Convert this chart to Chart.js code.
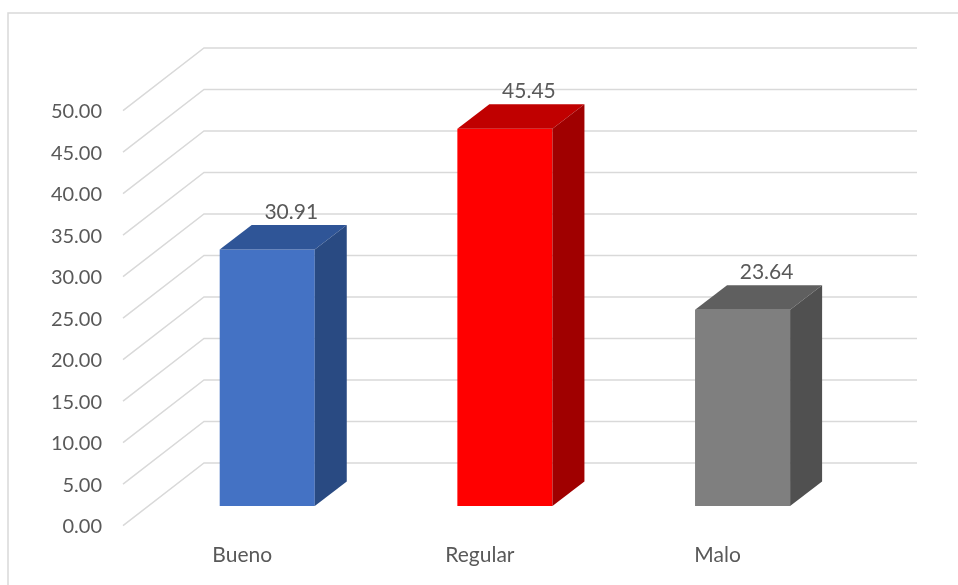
<!DOCTYPE html>
<html>
<head>
<meta charset="utf-8">
<script src="https://cdn.jsdelivr.net/npm/chart.js@4/dist/chart.umd.min.js"></script>
<style>
  html, body { margin: 0; padding: 0; background: #ffffff; }
  #wrap { width: 958px; height: 585px; position: relative; }
</style>
</head>
<body>
<div id="wrap"><canvas id="c" width="958" height="585"></canvas></div>
<script>
// ---- data ----
const categories = ["Bueno", "Regular", "Malo"];
const values = [30.91, 45.45, 23.64];
const yMin = 0;
const yMax = 50;
const yStep = 5;

// ---- styles ----
const frontColors = ["#4472C4", "#FF0000", "#7F7F7F"];
const topColors   = ["#2F5597", "#C00000", "#5F5F5F"];
const sideColors  = ["#294A82", "#A00000", "#505050"];
const textColor = "#595959";
const gridColor = "#D9D9D9";
const fontFamily = "Lato, 'Open Sans', sans-serif";

// 3D geometry (px)
const FRONT_DX = -25.4, FRONT_DY = 19.7;  // front plane relative to bar plane
const BACK_DX = 55.6,  BACK_DY = -43;     // back wall relative to bar plane
const BAR_DX = 32, BAR_DY = -24.5;        // bar depth

const frame3D = {
  id: "frame3D",
  beforeDraw(chart) {
    const ctx = chart.ctx;
    ctx.save();
    ctx.strokeStyle = gridColor;
    ctx.lineWidth = 1.5;
    ctx.strokeRect(8, 13, 1200, 1200);
    ctx.restore();
  },
  beforeDatasetsDraw(chart) {
    const ctx = chart.ctx;
    const y = chart.scales.y;
    const area = chart.chartArea;
    ctx.save();
    ctx.strokeStyle = gridColor;
    ctx.lineWidth = 1.5;
    y.ticks.forEach(t => {
      const py = y.getPixelForValue(t.value);
      ctx.beginPath();
      ctx.moveTo(area.left + FRONT_DX, py + FRONT_DY);
      ctx.lineTo(area.left + BACK_DX, py + BACK_DY);
      ctx.lineTo(area.right + BACK_DX, py + BACK_DY);
      ctx.stroke();
    });
    ctx.restore();
  },
  afterDatasetsDraw(chart) {
    const ctx = chart.ctx;
    const meta = chart.getDatasetMeta(0);
    ctx.save();
    meta.data.forEach((bar, i) => {
      const p = bar.getProps(["x", "y", "base", "width"], true);
      const l = p.x - p.width / 2, r = p.x + p.width / 2;
      const top = p.y, base = p.base;
      // top face
      ctx.fillStyle = topColors[i];
      ctx.beginPath();
      ctx.moveTo(l, top);
      ctx.lineTo(l + BAR_DX, top + BAR_DY);
      ctx.lineTo(r + BAR_DX, top + BAR_DY);
      ctx.lineTo(r, top);
      ctx.closePath();
      ctx.fill();
      // side face
      ctx.fillStyle = sideColors[i];
      ctx.beginPath();
      ctx.moveTo(r, top);
      ctx.lineTo(r + BAR_DX, top + BAR_DY);
      ctx.lineTo(r + BAR_DX, base + BAR_DY);
      ctx.lineTo(r, base);
      ctx.closePath();
      ctx.fill();
      // value label
      ctx.fillStyle = textColor;
      ctx.font = "21px " + fontFamily;
      ctx.textAlign = "center";
      ctx.textBaseline = "middle";
      ctx.fillText(values[i].toFixed(2), p.x + 24, top - 37.5);
    });
    ctx.restore();
  }
};

new Chart(document.getElementById("c"), {
  type: "bar",
  data: {
    labels: categories,
    datasets: [{
      data: values,
      backgroundColor: frontColors,
      borderWidth: 0,
      barPercentage: 0.4,
      categoryPercentage: 1.0
    }]
  },
  options: {
    responsive: false,
    devicePixelRatio: 1,
    animation: false,
    events: [],
    layout: { padding: { top: 91, right: 96.6, bottom: 0, left: 0 } },
    plugins: { legend: { display: false }, tooltip: { enabled: false }, title: { display: false } },
    scales: {
      x: {
        grid: { display: false, drawTicks: false },
        border: { display: false },
        ticks: {
          color: textColor,
          font: { family: fontFamily, size: 21 },
          padding: 37,
          labelOffset: -25,
          maxRotation: 0
        },
        afterFit(scale) { scale.height = 79; }
      },
      y: {
        min: yMin,
        max: yMax,
        grid: { display: false, drawTicks: false },
        border: { display: false },
        ticks: {
          stepSize: yStep,
          color: textColor,
          font: { family: fontFamily, size: 20 },
          padding: 46.4,
          labelOffset: 21,
          callback: v => Number(v).toFixed(2)
        },
        afterFit(scale) { scale.width = 148.4; }
      }
    }
  },
  plugins: [frame3D]
});
</script>
</body>
</html>
